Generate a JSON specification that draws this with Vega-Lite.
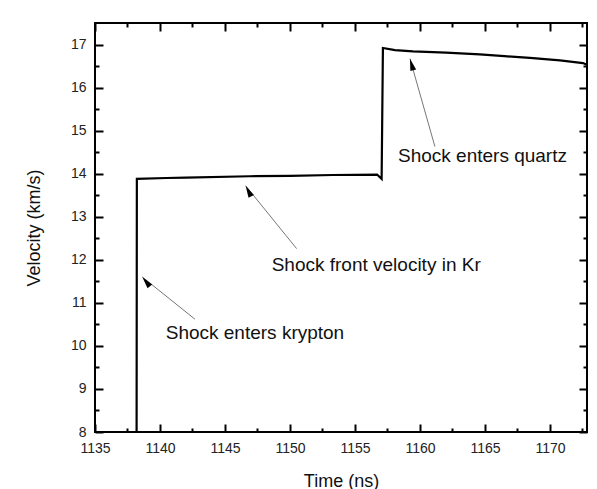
{
  "$schema": "https://vega.github.io/schema/vega-lite/v6.json",
  "width": 492,
  "height": 409,
  "autosize": {"type": "none"},
  "padding": {"left": 95, "top": 23, "right": 10, "bottom": 57},
  "background": "white",
  "view": {"stroke": "black", "strokeWidth": 2, "fill": null},
  "config": {
    "font": "Liberation Sans",
    "axis": {"grid": false, "labelFont": "Liberation Sans", "titleFont": "Liberation Sans", "labelColor": "#222", "titleColor": "#111", "labelFontSize": 14, "titleFontSize": 18, "titleFontWeight": "normal"}
  },
  "datasets": {
    "trace": [
      {"t": 1138.2, "v": 8},
      {"t": 1138.22, "v": 13.88},
      {"t": 1140.5, "v": 13.9},
      {"t": 1142, "v": 13.91},
      {"t": 1146.9, "v": 13.94},
      {"t": 1150, "v": 13.95},
      {"t": 1153.3, "v": 13.97},
      {"t": 1156.7, "v": 13.98},
      {"t": 1157.05, "v": 13.88},
      {"t": 1157.15, "v": 16.92},
      {"t": 1158.08, "v": 16.87},
      {"t": 1159.46, "v": 16.84},
      {"t": 1162, "v": 16.81},
      {"t": 1164.6, "v": 16.77},
      {"t": 1166.5, "v": 16.73},
      {"t": 1168.46, "v": 16.69},
      {"t": 1170.77, "v": 16.63},
      {"t": 1172.54, "v": 16.57},
      {"t": 1172.85, "v": 16.53}
    ],
    "notes": [
      {"label": "Shock enters quartz", "tx": 1158.31, "ty": 14.4, "x1": 1161.15, "y1": 14.63, "x2": 1159.23, "y2": 16.67},
      {"label": "Shock front velocity in Kr", "tx": 1148.59, "ty": 11.88, "x1": 1150.51, "y1": 12.26, "x2": 1146.59, "y2": 13.72},
      {"label": "Shock enters krypton", "tx": 1140.44, "ty": 10.3, "x1": 1142.69, "y1": 10.62, "x2": 1138.64, "y2": 11.6}
    ]
  },
  "resolve": {"axis": {"x": "independent", "y": "independent"}},
  "layer": [
    {
      "data": {"name": "trace"},
      "mark": {"type": "line", "color": "black", "strokeWidth": 2.2, "interpolate": "linear"},
      "encoding": {
        "x": {"field": "t", "type": "quantitative", "scale": {"domain": [1135, 1172.85], "nice": false, "zero": false},
              "axis": {"orient": "bottom", "title": "Time (ns)", "format": "d", "values": [1135, 1140, 1145, 1150, 1155, 1160, 1165, 1170], "domain": false, "ticks": true, "tickColor": "black", "tickWidth": 2, "tickOpacity": 1, "offset": -8, "tickSize": 8, "labelPadding": 9, "titlePadding": 17, "labelFlush": false, "labelOverlap": false}},
        "y": {"field": "v", "type": "quantitative", "scale": {"domain": [8, 17.5], "nice": false, "zero": false},
              "axis": {"orient": "left", "title": "Velocity (km/s)", "format": "d", "values": [8, 9, 10, 11, 12, 13, 14, 15, 16, 17], "domain": false, "ticks": true, "tickColor": "black", "tickWidth": 2, "tickOpacity": 1, "offset": -8, "tickSize": 8, "labelPadding": 9, "titlePadding": 27, "labelFlush": false, "labelOverlap": false}}
      }
    },
    {
      "data": {"name": "notes"},
      "mark": {"type": "rule", "color": "#777", "strokeWidth": 1},
      "encoding": {
        "x": {"field": "x1", "type": "quantitative", "axis": {"orient": "bottom", "title": null, "labels": false, "domain": false, "ticks": true, "tickColor": "black", "tickWidth": 2, "tickOpacity": 1, "offset": -4, "tickSize": 4, "values": [1137.5, 1142.5, 1147.5, 1152.5, 1157.5, 1162.5, 1167.5, 1172.5]}},
        "y": {"field": "y1", "type": "quantitative", "axis": {"orient": "left", "title": null, "labels": false, "domain": false, "ticks": true, "tickColor": "black", "tickWidth": 2, "tickOpacity": 1, "offset": -4, "tickSize": 4, "values": [8.5, 9.5, 10.5, 11.5, 12.5, 13.5, 14.5, 15.5, 16.5]}},
        "x2": {"field": "x2"},
        "y2": {"field": "y2"}
      }
    },
    {
      "data": {"name": "notes"},
      "mark": {"type": "text", "align": "left", "baseline": "middle", "fontSize": 19, "font": "Liberation Sans", "color": "#111"},
      "encoding": {
        "x": {"field": "tx", "type": "quantitative", "axis": {"orient": "top", "title": null, "labels": false, "domain": false, "ticks": true, "tickColor": "black", "tickWidth": 2, "tickOpacity": 1, "offset": -8, "tickSize": 8, "values": [1135, 1140, 1145, 1150, 1155, 1160, 1165, 1170]}},
        "y": {"field": "ty", "type": "quantitative", "axis": {"orient": "right", "title": null, "labels": false, "domain": false, "ticks": true, "tickColor": "black", "tickWidth": 2, "tickOpacity": 1, "offset": -8, "tickSize": 8, "values": [8, 9, 10, 11, 12, 13, 14, 15, 16, 17]}},
        "text": {"field": "label"}
      }
    },
    {
      "data": {"name": "notes"},
      "mark": {"type": "point", "filled": true, "color": "black", "opacity": 1, "size": 144, "shape": "M0,0L-0.5,2L0.5,2Z"},
      "encoding": {
        "x": {"field": "x2", "type": "quantitative", "axis": {"orient": "top", "title": null, "labels": false, "domain": false, "ticks": true, "tickColor": "black", "tickWidth": 2, "tickOpacity": 1, "offset": -4, "tickSize": 4, "values": [1137.5, 1142.5, 1147.5, 1152.5, 1157.5, 1162.5, 1167.5, 1172.5]}},
        "y": {"field": "y2", "type": "quantitative", "axis": {"orient": "right", "title": null, "labels": false, "domain": false, "ticks": true, "tickColor": "black", "tickWidth": 2, "tickOpacity": 1, "offset": -4, "tickSize": 4, "values": [8.5, 9.5, 10.5, 11.5, 12.5, 13.5, 14.5, 15.5, 16.5]}},
        "angle": {"field": "label", "type": "nominal", "scale": {"domain": ["Shock enters quartz", "Shock front velocity in Kr", "Shock enters krypton"], "range": [344, 321, 309]}, "legend": null}
      }
    }
  ]
}
